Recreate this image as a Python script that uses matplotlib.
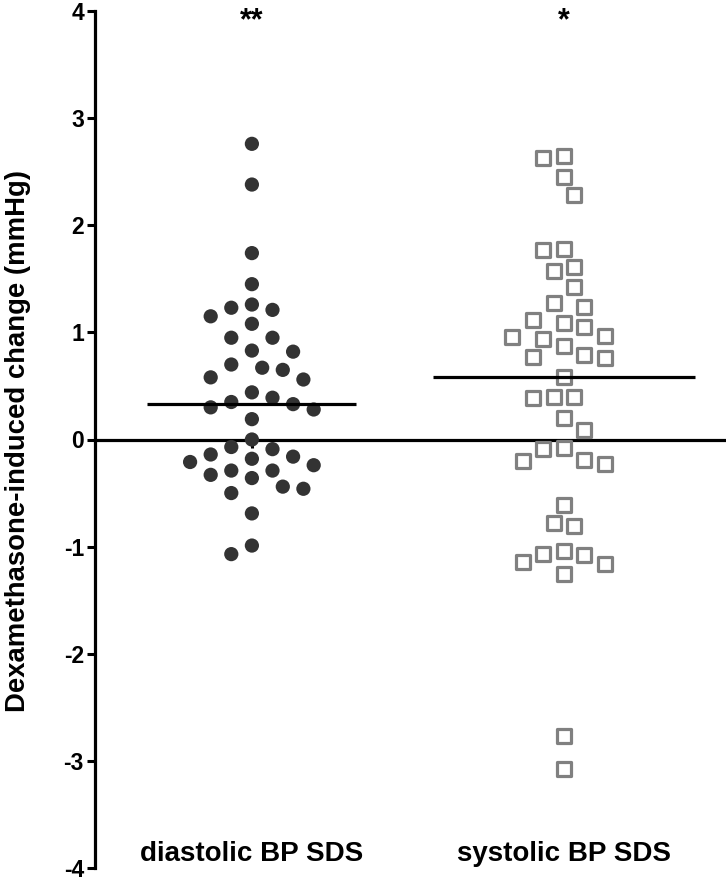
import numpy as np
import matplotlib
matplotlib.use("Agg")
from matplotlib import pyplot as plt

plt.rcParams['font.family'] = ['Liberation Sans', 'DejaVu Sans']
plt.rcParams['font.weight'] = 'bold'

# values (mmHg change)
diastolic = [2.76, 2.38, 1.74, 1.45, 1.26, 1.23, 1.21, 1.15, 1.08, 0.95, 0.95,
             0.83, 0.82, 0.70, 0.67, 0.65, 0.58, 0.56, 0.44, 0.39, 0.35, 0.33,
             0.30, 0.28, 0.19, 0.00, -0.07, -0.09, -0.14, -0.16, -0.18, -0.21,
             -0.24, -0.29, -0.29, -0.33, -0.36, -0.44, -0.46, -0.50, -0.69,
             -0.99, -1.07]
systolic = [2.65, 2.63, 2.45, 2.28, 1.78, 1.77, 1.61, 1.57, 1.42, 1.27, 1.24,
            1.12, 1.09, 1.05, 0.97, 0.96, 0.94, 0.87, 0.79, 0.77, 0.76, 0.58,
            0.40, 0.40, 0.39, 0.20, 0.09, -0.08, -0.09, -0.19, -0.20, -0.23,
            -0.61, -0.78, -0.81, -1.04, -1.07, -1.08, -1.14, -1.16, -1.26,
            -2.77, -3.08]
categories = ["diastolic BP SDS", "systolic BP SDS"]
stars = ["**", "*"]
yticks = [-4, -3, -2, -1, 0, 1, 2, 3, 4]


def swarm(ax, vals, step_px, min_px):
    # greedy beeswarm on a fixed horizontal grid, done in pixel space
    p0 = ax.transData.transform((0, 0))
    p1 = ax.transData.transform((1, 1))
    sx, sy = p1[0] - p0[0], p1[1] - p0[1]
    vals = np.asarray(vals)
    offs = np.zeros(len(vals))
    placed = []
    side = -1
    for i in np.argsort(-vals):
        y = vals[i] * sy
        k = 0
        while True:
            cands = [0] if k == 0 else [side * k, -side * k]
            ok = None
            for c in cands:
                x = c * step_px
                if all((x - px) ** 2 + (y - py) ** 2 >= min_px ** 2 for px, py in placed):
                    ok = c
                    break
            if ok is not None:
                break
            k += 1
        if ok != 0:
            side = -side
        placed.append((ok * step_px, y))
        offs[i] = ok * step_px / sx
    return offs


fig = plt.figure(figsize=(7.26, 8.84), dpi=100)
ax = fig.add_axes([95 / 726, 16 / 884, 631 / 726, 857 / 884])
ax.set_xlim(0.497, 2.52)
ax.set_ylim(-4, 4)

for s in ['top', 'right']:
    ax.spines[s].set_visible(False)
ax.spines['bottom'].set_position(('data', 0))
ax.spines['left'].set_linewidth(2.3)
ax.spines['bottom'].set_linewidth(2.3)

ax.set_yticks(yticks)
ax.set_yticklabels([str(t) for t in yticks], fontsize=16.5, fontweight='bold')
ax.tick_params(axis='y', direction='out', length=6, width=2.2, pad=2)
ax.set_xticks([1, 2])
ax.set_xticklabels([])
ax.tick_params(axis='x', direction='out', length=6, width=2.2)

d_off = swarm(ax, diastolic, 10.3, 19)
s_off = swarm(ax, systolic, 10.3, 20)

ax.scatter(1 + d_off, diastolic, s=105, color='#333333', edgecolor='none',
           zorder=3, clip_on=False)
ax.scatter(2 + s_off, systolic, s=100, marker='s', facecolor='white',
           edgecolor='#808080', linewidth=2.3, zorder=3, clip_on=False)

ax.hlines(np.median(diastolic), 1 - 0.335, 1 + 0.335, color='black', lw=2.3, zorder=4)
ax.hlines(np.median(systolic), 2 - 0.42, 2 + 0.42, color='black', lw=2.3, zorder=4)

for i, (lab, st) in enumerate(zip(categories, stars)):
    ax.text(1 + i, -3.87, lab, ha='center', va='center', fontsize=20, fontweight='bold')
    ax.text(1 + i, 3.9, st, ha='center', va='center', fontsize=22, fontweight='bold')

fig.text(18 / 726, 1 - 441 / 884, "Dexamethasone-induced change (mmHg)", rotation=90,
         ha='center', va='center', fontsize=19.8, fontweight='bold')

fig.savefig("out.png", dpi=100)
